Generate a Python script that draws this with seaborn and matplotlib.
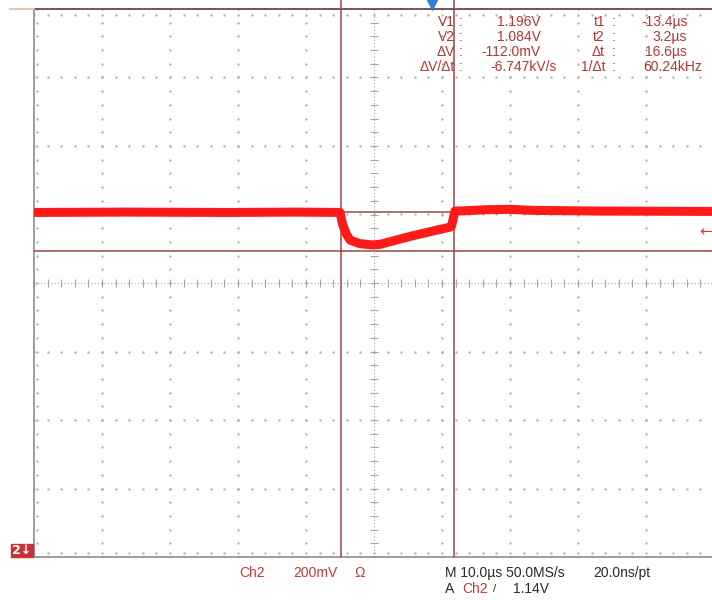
import numpy as np
import pandas as pd
import matplotlib
matplotlib.use("Agg")
import matplotlib.pyplot as plt
import matplotlib.transforms as mtransforms
from matplotlib.patches import Rectangle
from matplotlib.lines import Line2D
import seaborn as sns

# ---- data (time in µs relative to trigger, volts) ----
trace_time = [-58.5, -45.0, -30.0, -20.0, -13.5, -13.1, -12.5, -12.0, -10.6, -8.7,
              -7.6, -3.0, 0.0, 2.65, 2.9, 3.4, 5.0, 8.0, 11.5, 15.0, 25.0, 41.5]
trace_volt = [1.196, 1.197, 1.196, 1.197, 1.196, 1.160, 1.130, 1.115, 1.105, 1.101,
              1.103, 1.127, 1.141, 1.153, 1.156, 1.200, 1.201, 1.204, 1.205, 1.202,
              1.200, 1.199]

cursor_t = [-13.4, 3.2]          # t1, t2 (µs)
cursor_v = [1.196, 1.084]        # V1, V2 (V)
trigger_pos = 0.0                # µs
trigger_level = 1.14             # V

time_per_div = 10.0              # µs
volt_per_div = 0.2               # V
x_range = [-58.5, 41.5]
y_range = [0.19, 1.79]

readout_labels = ["V1", "V2", "ΔV", "ΔV/Δt"]
readout_values = ["1.196V", "1.084V", "-112.0mV", "-6.747kV/s"]
readout_tlabels = ["t1", "t2", "Δt", "1/Δt"]
readout_tvalues = ["-13.4µs", "3.2µs", "16.6µs", "60.24kHz"]

# ---- figure ----
sns.set_style("white")
plt.rcParams["font.family"] = ["Liberation Sans", "DejaVu Sans"]

W, H = 712, 600
fig = plt.figure(figsize=(W / 100, H / 100), dpi=100)
fig.patch.set_facecolor("white")
L, T, R, B = 34, 9, 714, 557
ax = fig.add_axes([L / W, 1 - B / H, (R - L) / W, (B - T) / H])
ax.set_facecolor("white")
ax.set_xlim(*x_range)
ax.set_ylim(*y_range)
ax.set_xticks([])
ax.set_yticks([])

def px(x, y):
    return x / W, 1 - y / H

for s in ["left", "bottom"]:
    ax.spines[s].set_color("#8c8c8c")
    ax.spines[s].set_linewidth(1.2)
ax.spines["top"].set_color("#5a3a48")
ax.spines["top"].set_linewidth(1.2)
ax.spines["right"].set_visible(False)

# ---- graticule ----
gcol = "#a4a4a4"
sub_x = np.arange(x_range[0], x_range[1] + 1e-6, time_per_div / 5)
sub_y = np.arange(y_range[0], y_range[1] + 1e-6, volt_per_div / 5)
major_x = np.arange(x_range[0] + time_per_div, x_range[1] - 1e-6, time_per_div)
major_y = np.arange(y_range[0] + volt_per_div, y_range[1] - 1e-6, volt_per_div)
cx = (x_range[0] + x_range[1]) / 2
cy = (y_range[0] + y_range[1]) / 2
dot = dict(marker="s", ms=1.4, ls="none", color=gcol, mec="none", zorder=1)
for vx in major_x:
    if abs(vx - cx) > 1e-6:
        ax.plot(np.full_like(sub_y, vx), sub_y, **dot)
for hy in major_y:
    if abs(hy - cy) > 1e-6:
        ax.plot(sub_x, np.full_like(sub_x, hy), **dot)
# edge ticks
upx = (x_range[1] - x_range[0]) / (R - L)
upy = (y_range[1] - y_range[0]) / (B - T)
ax.plot(sub_x, np.full_like(sub_x, y_range[1] - 6 * upy), **dot)
ax.plot(sub_x, np.full_like(sub_x, y_range[0] + 4 * upy), **dot)
ax.plot(np.full_like(sub_y, x_range[0] + 3 * upx), sub_y, **dot)
# centre cross
ax.axhline(cy, color=gcol, lw=0.8, ls=(0, (1, 2)), zorder=1)
ax.axvline(cx, color=gcol, lw=0.8, ls=(0, (1, 2)), zorder=1)
ax.plot(sub_x, np.full_like(sub_x, cy), marker="|", ms=6, mew=0.8, ls="none", color=gcol, zorder=1)
ax.plot(np.full_like(sub_y, cx), sub_y, marker="_", ms=6, mew=0.8, ls="none", color=gcol, zorder=1)

# ---- cursors ----
ccol = "#9a4848"
for t in cursor_t:
    ax.axvline(t, ymin=0, ymax=1 + T / (B - T), color=ccol, lw=1.1, clip_on=False, zorder=3)
for v in cursor_v:
    ax.axhline(v, color=ccol, lw=1.1, zorder=3)

# ---- trace ----
df = pd.DataFrame({"t": trace_time, "v": trace_volt})
sns.lineplot(data=df, x="t", y="v", ax=ax, color="#ff1a1a", lw=6.5, sort=False,
             zorder=5, solid_joinstyle="round")
ax.set_xlabel("")
ax.set_ylabel("")

# ---- trigger markers ----
trans = mtransforms.blended_transform_factory(ax.transData, ax.transAxes)
ax.plot([trigger_pos], [1 + 4 / (B - T)], marker="v", ms=9, color="#2f7fd6",
        mec="none", transform=trans, clip_on=False, zorder=6)
trans2 = mtransforms.blended_transform_factory(fig.transFigure, ax.transData)
ax.text(712 / W, trigger_level, "←", transform=trans2, ha="right", va="center",
        color="#d03a3a", fontsize=11, family="DejaVu Sans", zorder=6)

# ---- channel marker bottom left ----
fig.patches.append(Rectangle(px(11, 557), 22 / W, 13 / H, transform=fig.transFigure,
                             color="#c8303a", zorder=10))
fig.text(*px(22, 550.5), "2↓", color="white", fontsize=9, fontweight="bold",
         ha="center", va="center", family="DejaVu Sans", zorder=11)
fig.lines.append(Line2D([10 / W, 34 / W], [1 - 9 / H, 1 - 9 / H], transform=fig.transFigure,
                        color="#e6c8a0", lw=1.5))

# ---- readouts ----
rcol = "#b03838"
fs = 10
rows_y = [22, 37, 52, 67]
val_right = [541, 541, 540, 557]
tval_right = [688, 687, 687, 702]
for i, y in enumerate(rows_y):
    fig.text(*px(455, y), readout_labels[i], ha="right", va="center", color=rcol, fontsize=fs)
    fig.text(*px(461, y), ":", ha="center", va="center", color=rcol, fontsize=fs)
    fig.text(*px(val_right[i], y), readout_values[i], ha="right", va="center", color=rcol, fontsize=fs)
    fig.text(*px(605, y), readout_tlabels[i], ha="right", va="center", color=rcol, fontsize=fs)
    fig.text(*px(614, y), ":", ha="center", va="center", color=rcol, fontsize=fs)
    fig.text(*px(tval_right[i], y), readout_tvalues[i], ha="right", va="center", color=rcol, fontsize=fs)

# ---- bottom status ----
red2 = "#c03a3a"
blk = "#2a2a2a"
fig.text(*px(239, 573), "Ch2", ha="left", va="center", color=red2, fontsize=fs)
fig.text(*px(293, 573), "200mV", ha="left", va="center", color=red2, fontsize=fs)
fig.text(*px(354, 573), "Ω", ha="left", va="center", color=red2, fontsize=fs)
fig.text(*px(445, 573), "M 10.0µs 50.0MS/s", ha="left", va="center", color=blk, fontsize=fs)
fig.text(*px(593, 573), "20.0ns/pt", ha="left", va="center", color=blk, fontsize=fs)
fig.text(*px(445, 589), "A", ha="left", va="center", color=blk, fontsize=fs)
fig.text(*px(462, 589), "Ch2", ha="left", va="center", color=red2, fontsize=fs)
fig.text(*px(493, 589), "/", ha="left", va="center", color=blk, fontsize=8)
fig.text(*px(513, 589), "1.14V", ha="left", va="center", color=blk, fontsize=fs)

fig.savefig("out.png", dpi=100, facecolor="white")
